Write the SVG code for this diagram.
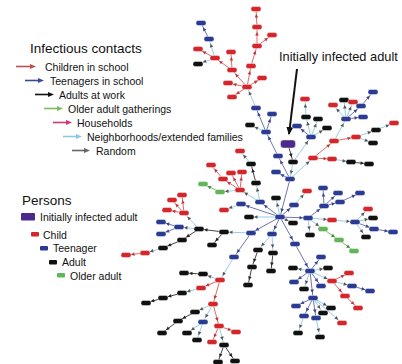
<svg xmlns="http://www.w3.org/2000/svg" width="402" height="364" viewBox="0 0 402 364">
<style>
text{font-family:"Liberation Sans",Arial,sans-serif;fill:#111}
.t{font-size:13.5px}
.s{font-size:10.5px}
.nR{fill:#d4262b}.nB{fill:#2b3b93}.nK{fill:#111}.nG{fill:#63b55a}
#nodes rect{stroke:#fff;stroke-width:0.4}
#edges line{stroke-width:1;fill:none}
.eR{stroke:#e0686a;marker-end:url(#aR)}
.eB{stroke:#6e76b6;marker-end:url(#aB)}
.eK{stroke:#444;marker-end:url(#aK)}
.eL{stroke:#93cfe6;marker-end:url(#aL)}
.eG{stroke:#72bf63;marker-end:url(#aG)}
.lg{stroke-width:1.6}
</style>
<defs>
<marker id="aR" markerUnits="userSpaceOnUse" viewBox="-10 -3 10 6" markerWidth="10" markerHeight="6" refX="0" refY="0" orient="auto"><path d="M-8.5,-1.8 L-5,0 L-8.5,1.8z" fill="#c0393d"/></marker>
<marker id="aB" markerUnits="userSpaceOnUse" viewBox="-10 -3 10 6" markerWidth="10" markerHeight="6" refX="0" refY="0" orient="auto"><path d="M-8.5,-1.8 L-5,0 L-8.5,1.8z" fill="#3a4490"/></marker>
<marker id="aK" markerUnits="userSpaceOnUse" viewBox="-10 -3 10 6" markerWidth="10" markerHeight="6" refX="0" refY="0" orient="auto"><path d="M-8.5,-1.8 L-5,0 L-8.5,1.8z" fill="#222"/></marker>
<marker id="aL" markerUnits="userSpaceOnUse" viewBox="-10 -3 10 6" markerWidth="10" markerHeight="6" refX="0" refY="0" orient="auto"><path d="M-8.5,-1.8 L-5,0 L-8.5,1.8z" fill="#555"/></marker>
<marker id="aG" markerUnits="userSpaceOnUse" viewBox="-10 -3 10 6" markerWidth="10" markerHeight="6" refX="0" refY="0" orient="auto"><path d="M-8.5,-1.8 L-5,0 L-8.5,1.8z" fill="#3d8a3a"/></marker>
<marker id="big" markerUnits="userSpaceOnUse" viewBox="0 0 8 8" markerWidth="8" markerHeight="8" refX="7" refY="4" orient="auto"><path d="M0,0.5 L8,4 L0,7.5z" fill="#111"/></marker>
</defs>
<rect width="402" height="364" fill="#fff"/>

<g id="legend-contacts">
<text class="t" x="30" y="53">Infectious contacts</text>
<line class="lg" x1="16" y1="66.5" x2="31" y2="66.5" stroke="#c0504d"/><polygon points="30,64 36,66.5 30,69" fill="#c0504d"/>
<text class="s" x="45" y="70.5">Children in school</text>
<line class="lg" x1="25" y1="80.5" x2="39" y2="80.5" stroke="#3a4a9a"/><polygon points="38,78 44,80.5 38,83" fill="#3a4a9a"/>
<text class="s" x="50" y="84.5">Teenagers in school</text>
<line class="lg" x1="35" y1="94.5" x2="49" y2="94.5" stroke="#111"/><polygon points="48,92 54,94.5 48,97" fill="#111"/>
<text class="s" x="59" y="98.5">Adults at work</text>
<line class="lg" x1="44" y1="108.5" x2="58" y2="108.5" stroke="#7cbc5c"/><polygon points="57,106 63,108.5 57,111" fill="#7cbc5c"/>
<text class="s" x="68" y="112.5">Older adult gatherings</text>
<line class="lg" x1="53" y1="122.5" x2="67" y2="122.5" stroke="#d0357a"/><polygon points="66,120 72,122.5 66,125" fill="#d0357a"/>
<text class="s" x="77" y="126.5">Households</text>
<line class="lg" x1="63" y1="136.5" x2="77" y2="136.5" stroke="#8cc8e0"/><polygon points="76,134 82,136.5 76,139" fill="#8cc8e0"/>
<text class="s" x="87" y="140.5">Neighborhoods/extended families</text>
<line class="lg" x1="72" y1="150.5" x2="85" y2="150.5" stroke="#666"/><polygon points="84,148 90,150.5 84,153" fill="#666"/>
<text class="s" x="96" y="154.5">Random</text>
</g>

<g id="legend-persons">
<text class="t" x="22" y="205">Persons</text>
<rect x="21" y="213" width="14" height="7.5" rx="1" fill="#4b2a8c"/>
<text class="s" x="40" y="221">Initially infected adult</text>
<rect x="31" y="232" width="8" height="4.5" rx="1" class="nR"/>
<text class="s" x="43" y="238.5">Child</text>
<rect x="40" y="246" width="8" height="4.5" rx="1" class="nB"/>
<text class="s" x="53" y="252">Teenager</text>
<rect x="49" y="260" width="8" height="4.5" rx="1" class="nK"/>
<text class="s" x="62" y="266">Adult</text>
<rect x="57" y="273" width="8" height="4.5" rx="1" class="nG"/>
<text class="s" x="70" y="280">Older adult</text>
</g>

<g id="label">
<text x="279" y="61" font-size="12.8">Initially infected adult</text>
<line x1="297" y1="69" x2="289" y2="134" stroke="#111" stroke-width="2" marker-end="url(#big)"/>
</g>

<g id="edges">
<line class="eR" x1="247" y1="87" x2="228" y2="83"/>
<line class="eR" x1="247" y1="87" x2="232" y2="97"/>
<line class="eR" x1="247" y1="87" x2="262" y2="78"/>
<line class="eR" x1="247" y1="87" x2="251" y2="66"/>
<line class="eR" x1="247" y1="87" x2="232" y2="70"/>
<line class="eR" x1="251" y1="66" x2="257" y2="46"/>
<line class="eR" x1="257" y1="46" x2="272" y2="35"/>
<line class="eR" x1="257" y1="46" x2="257" y2="27"/>
<line class="eR" x1="257" y1="27" x2="256" y2="9"/>
<line class="eR" x1="232" y1="70" x2="231" y2="52"/>
<line class="eR" x1="232" y1="70" x2="215" y2="58"/>
<line class="eR" x1="215" y1="58" x2="198" y2="49"/>
<line class="eL" x1="215" y1="58" x2="198" y2="64"/>
<line class="eL" x1="215" y1="58" x2="209" y2="39"/>
<line class="eB" x1="209" y1="39" x2="201" y2="23"/>
<line class="eL" x1="256" y1="108" x2="247" y2="87"/>
<line class="eB" x1="266" y1="132" x2="256" y2="108"/>
<line class="eB" x1="266" y1="132" x2="272" y2="114"/>
<line class="eL" x1="266" y1="132" x2="250" y2="125"/>
<line class="eB" x1="278" y1="156" x2="266" y2="132"/>
<line class="eB" x1="290" y1="179" x2="278" y2="156"/>
<line class="eK" x1="288" y1="144" x2="293" y2="162"/>
<line class="eL" x1="293" y1="162" x2="290" y2="179"/>
<line class="eL" x1="293" y1="162" x2="311" y2="137"/>
<line class="eB" x1="311" y1="137" x2="297" y2="126"/>
<line class="eL" x1="311" y1="137" x2="306" y2="117"/>
<line class="eL" x1="311" y1="137" x2="318" y2="119"/>
<line class="eL" x1="311" y1="137" x2="327" y2="128"/>
<line class="eL" x1="306" y1="117" x2="305" y2="99"/>
<line class="eL" x1="290" y1="179" x2="313" y2="158"/>
<line class="eR" x1="313" y1="158" x2="332" y2="159"/>
<line class="eL" x1="332" y1="159" x2="351" y2="162"/>
<line class="eK" x1="351" y1="162" x2="369" y2="164"/>
<line class="eR" x1="313" y1="158" x2="334" y2="141"/>
<line class="eL" x1="334" y1="141" x2="346" y2="119"/>
<line class="eR" x1="334" y1="141" x2="356" y2="137"/>
<line class="eL" x1="356" y1="137" x2="376" y2="130"/>
<line class="eL" x1="356" y1="137" x2="373" y2="143"/>
<line class="eL" x1="376" y1="130" x2="394" y2="123"/>
<line class="eL" x1="346" y1="119" x2="333" y2="105"/>
<line class="eL" x1="346" y1="119" x2="344" y2="100"/>
<line class="eL" x1="346" y1="119" x2="353" y2="102"/>
<line class="eB" x1="346" y1="119" x2="361" y2="106"/>
<line class="eB" x1="361" y1="106" x2="373" y2="92"/>
<line class="eB" x1="346" y1="119" x2="363" y2="117"/>
<line class="eB" x1="290" y1="179" x2="276" y2="172"/>
<line class="eB" x1="290" y1="179" x2="280" y2="217"/>
<line class="eB" x1="280" y1="217" x2="260" y2="202"/>
<line class="eL" x1="260" y1="202" x2="256" y2="183"/>
<line class="eK" x1="256" y1="183" x2="251" y2="164"/>
<line class="eL" x1="251" y1="164" x2="240" y2="151"/>
<line class="eL" x1="260" y1="202" x2="240" y2="190"/>
<line class="eR" x1="240" y1="190" x2="223" y2="179"/>
<line class="eR" x1="223" y1="179" x2="211" y2="165"/>
<line class="eR" x1="240" y1="190" x2="231" y2="173"/>
<line class="eR" x1="240" y1="190" x2="242" y2="172"/>
<line class="eL" x1="240" y1="190" x2="220" y2="192"/>
<line class="eG" x1="220" y1="192" x2="203" y2="184"/>
<line class="eB" x1="280" y1="217" x2="241" y2="204"/>
<line class="eL" x1="241" y1="204" x2="224" y2="210"/>
<line class="eL" x1="280" y1="217" x2="249" y2="217"/>
<line class="eL" x1="280" y1="217" x2="276" y2="198"/>
<line class="eB" x1="280" y1="217" x2="294" y2="205"/>
<line class="eL" x1="294" y1="205" x2="307" y2="191"/>
<line class="eL" x1="280" y1="217" x2="293" y2="223"/>
<line class="eB" x1="280" y1="217" x2="251" y2="233"/>
<line class="eL" x1="251" y1="233" x2="224" y2="232"/>
<line class="eK" x1="224" y1="232" x2="199" y2="229"/>
<line class="eL" x1="199" y1="229" x2="179" y2="227"/>
<line class="eB" x1="179" y1="227" x2="161" y2="222"/>
<line class="eB" x1="179" y1="227" x2="161" y2="234"/>
<line class="eL" x1="199" y1="229" x2="184" y2="213"/>
<line class="eR" x1="184" y1="213" x2="182" y2="195"/>
<line class="eR" x1="184" y1="213" x2="172" y2="200"/>
<line class="eR" x1="184" y1="213" x2="167" y2="210"/>
<line class="eK" x1="199" y1="229" x2="182" y2="240"/>
<line class="eK" x1="182" y1="240" x2="163" y2="248"/>
<line class="eL" x1="163" y1="248" x2="145" y2="253"/>
<line class="eR" x1="145" y1="253" x2="126" y2="255"/>
<line class="eK" x1="224" y1="232" x2="212" y2="245"/>
<line class="eB" x1="251" y1="233" x2="234" y2="257"/>
<line class="eL" x1="234" y1="257" x2="220" y2="280"/>
<line class="eL" x1="220" y1="280" x2="203" y2="274"/>
<line class="eK" x1="203" y1="274" x2="184" y2="273"/>
<line class="eR" x1="220" y1="280" x2="201" y2="288"/>
<line class="eL" x1="201" y1="288" x2="182" y2="293"/>
<line class="eK" x1="182" y1="293" x2="163" y2="298"/>
<line class="eK" x1="163" y1="298" x2="146" y2="303"/>
<line class="eR" x1="220" y1="280" x2="213" y2="304"/>
<line class="eL" x1="213" y1="304" x2="195" y2="312"/>
<line class="eK" x1="195" y1="312" x2="178" y2="321"/>
<line class="eK" x1="178" y1="321" x2="162" y2="333"/>
<line class="eL" x1="213" y1="304" x2="203" y2="322"/>
<line class="eL" x1="203" y1="322" x2="187" y2="333"/>
<line class="eL" x1="203" y1="322" x2="197" y2="340"/>
<line class="eR" x1="213" y1="304" x2="219" y2="326"/>
<line class="eR" x1="219" y1="326" x2="236" y2="332"/>
<line class="eR" x1="219" y1="326" x2="212" y2="342"/>
<line class="eL" x1="219" y1="326" x2="224" y2="345"/>
<line class="eK" x1="224" y1="345" x2="218" y2="362"/>
<line class="eK" x1="224" y1="345" x2="235" y2="361"/>
<line class="eB" x1="280" y1="217" x2="272" y2="234"/>
<line class="eL" x1="272" y1="234" x2="258" y2="250"/>
<line class="eL" x1="272" y1="234" x2="273" y2="253"/>
<line class="eK" x1="258" y1="250" x2="252" y2="267"/>
<line class="eK" x1="252" y1="267" x2="248" y2="285"/>
<line class="eK" x1="273" y1="253" x2="271" y2="271"/>
<line class="eB" x1="280" y1="217" x2="295" y2="244"/>
<line class="eB" x1="295" y1="244" x2="310" y2="271"/>
<line class="eB" x1="310" y1="271" x2="321" y2="257"/>
<line class="eL" x1="310" y1="271" x2="293" y2="268"/>
<line class="eL" x1="310" y1="271" x2="328" y2="268"/>
<line class="eB" x1="310" y1="271" x2="294" y2="282"/>
<line class="eL" x1="310" y1="271" x2="304" y2="289"/>
<line class="eB" x1="310" y1="271" x2="321" y2="286"/>
<line class="eL" x1="310" y1="271" x2="332" y2="281"/>
<line class="eR" x1="332" y1="281" x2="349" y2="273"/>
<line class="eL" x1="332" y1="281" x2="352" y2="286"/>
<line class="eB" x1="352" y1="286" x2="370" y2="291"/>
<line class="eR" x1="332" y1="281" x2="345" y2="296"/>
<line class="eR" x1="345" y1="296" x2="358" y2="308"/>
<line class="eB" x1="310" y1="271" x2="313" y2="298"/>
<line class="eB" x1="313" y1="298" x2="296" y2="306"/>
<line class="eB" x1="313" y1="298" x2="304" y2="316"/>
<line class="eB" x1="313" y1="298" x2="316" y2="318"/>
<line class="eL" x1="313" y1="298" x2="323" y2="313"/>
<line class="eL" x1="313" y1="298" x2="331" y2="308"/>
<line class="eL" x1="313" y1="298" x2="342" y2="323"/>
<line class="eL" x1="304" y1="316" x2="298" y2="333"/>
<line class="eL" x1="316" y1="318" x2="320" y2="337"/>
<line class="eB" x1="280" y1="217" x2="308" y2="218"/>
<line class="eB" x1="308" y1="218" x2="324" y2="206"/>
<line class="eB" x1="324" y1="206" x2="323" y2="188"/>
<line class="eB" x1="324" y1="206" x2="338" y2="193"/>
<line class="eB" x1="324" y1="206" x2="340" y2="202"/>
<line class="eB" x1="340" y1="202" x2="360" y2="193"/>
<line class="eL" x1="308" y1="218" x2="332" y2="220"/>
<line class="eL" x1="332" y1="220" x2="355" y2="222"/>
<line class="eL" x1="355" y1="222" x2="368" y2="209"/>
<line class="eL" x1="355" y1="222" x2="373" y2="218"/>
<line class="eB" x1="355" y1="222" x2="374" y2="229"/>
<line class="eB" x1="374" y1="229" x2="393" y2="232"/>
<line class="eL" x1="355" y1="222" x2="366" y2="237"/>
<line class="eL" x1="308" y1="218" x2="310" y2="235"/>
<line class="eL" x1="308" y1="218" x2="323" y2="229"/>
<line class="eG" x1="323" y1="229" x2="339" y2="240"/>
<line class="eG" x1="339" y1="240" x2="354" y2="251"/>
</g>

<g id="nodes">
<g id="t1"><rect class="nR" x="251" y="6.5" width="10" height="5" rx="2"/></g>
<g id="t2"><rect class="nR" x="252" y="24.5" width="10" height="5" rx="2"/></g>
<g id="t3"><rect class="nR" x="267" y="32.5" width="10" height="5" rx="2"/></g>
<g id="t4"><rect class="nR" x="252" y="43.5" width="10" height="5" rx="2"/></g>
<g id="t5"><rect class="nR" x="246" y="63.5" width="10" height="5" rx="2"/></g>
<g id="t6"><rect class="nR" x="257" y="75.5" width="10" height="5" rx="2"/></g>
<g id="t7"><rect class="nR" x="242" y="84.5" width="10" height="5" rx="2"/></g>
<g id="t8"><rect class="nR" x="223" y="80.5" width="10" height="5" rx="2"/></g>
<g id="t9"><rect class="nR" x="227" y="94.5" width="10" height="5" rx="2"/></g>
<g id="t10"><rect class="nR" x="227" y="67.5" width="10" height="5" rx="2"/></g>
<g id="t11"><rect class="nR" x="226" y="49.5" width="10" height="5" rx="2"/></g>
<g id="t12"><rect class="nR" x="210" y="55.5" width="10" height="5" rx="2"/></g>
<g id="t13"><rect class="nR" x="193" y="46.5" width="10" height="5" rx="2"/></g>
<g id="t14"><rect class="nK" x="193" y="61.5" width="10" height="5" rx="2"/></g>
<g id="t15"><rect class="nB" x="204" y="36.5" width="10" height="5" rx="2"/></g>
<g id="t16"><rect class="nB" x="196" y="20.5" width="10" height="5" rx="2"/></g>
<g id="k1"><rect class="nB" x="251" y="105.5" width="10" height="5" rx="2"/></g>
<g id="k2"><rect class="nB" x="267" y="111.5" width="10" height="5" rx="2"/></g>
<g id="k3"><rect class="nK" x="245" y="122.5" width="10" height="5" rx="2"/></g>
<g id="k4"><rect class="nB" x="261" y="129.5" width="10" height="5" rx="2"/></g>
<g id="k5"><rect class="nB" x="273" y="153.5" width="10" height="5" rx="2"/></g>
<g id="k6"><rect class="nK" x="288" y="159.5" width="10" height="5" rx="2"/></g>
<g id="k7"><rect class="nB" x="285" y="176.5" width="10" height="5" rx="2"/></g>
<g id="k8"><rect class="nB" x="271" y="169.5" width="10" height="5" rx="2"/></g>
<g id="initial"><rect x="280.5" y="140" width="15" height="8" rx="3" fill="#4b2a8c" stroke="#fff" stroke-width="0.4"/></g>
<g id="r1"><rect class="nB" x="306" y="134.5" width="10" height="5" rx="2"/></g>
<g id="r2"><rect class="nB" x="292" y="123.5" width="10" height="5" rx="2"/></g>
<g id="r3"><rect class="nK" x="301" y="114.5" width="10" height="5" rx="2"/></g>
<g id="r4"><rect class="nK" x="313" y="116.5" width="10" height="5" rx="2"/></g>
<g id="r5"><rect class="nK" x="322" y="125.5" width="10" height="5" rx="2"/></g>
<g id="r6"><rect class="nR" x="300" y="96.5" width="10" height="5" rx="2"/></g>
<g id="r7"><rect class="nR" x="308" y="155.5" width="10" height="5" rx="2"/></g>
<g id="r8"><rect class="nR" x="327" y="156.5" width="10" height="5" rx="2"/></g>
<g id="r9"><rect class="nK" x="346" y="159.5" width="10" height="5" rx="2"/></g>
<g id="r10"><rect class="nK" x="364" y="161.5" width="10" height="5" rx="2"/></g>
<g id="r11"><rect class="nR" x="329" y="138.5" width="10" height="5" rx="2"/></g>
<g id="r12"><rect class="nR" x="351" y="134.5" width="10" height="5" rx="2"/></g>
<g id="r13"><rect class="nK" x="371" y="127.5" width="10" height="5" rx="2"/></g>
<g id="r14"><rect class="nK" x="368" y="140.5" width="10" height="5" rx="2"/></g>
<g id="r15"><rect class="nR" x="389" y="120.5" width="10" height="5" rx="2"/></g>
<g id="r16"><rect class="nB" x="341" y="116.5" width="10" height="5" rx="2"/></g>
<g id="r17"><rect class="nR" x="328" y="102.5" width="10" height="5" rx="2"/></g>
<g id="r18"><rect class="nK" x="339" y="97.5" width="10" height="5" rx="2"/></g>
<g id="r19"><rect class="nR" x="348" y="99.5" width="10" height="5" rx="2"/></g>
<g id="r20"><rect class="nB" x="356" y="103.5" width="10" height="5" rx="2"/></g>
<g id="r21"><rect class="nB" x="368" y="89.5" width="10" height="5" rx="2"/></g>
<g id="r22"><rect class="nB" x="358" y="114.5" width="10" height="5" rx="2"/></g>
<g id="m1"><rect class="nR" x="235" y="148.5" width="10" height="5" rx="2"/></g>
<g id="m2"><rect class="nK" x="246" y="161.5" width="10" height="5" rx="2"/></g>
<g id="m3"><rect class="nK" x="251" y="180.5" width="10" height="5" rx="2"/></g>
<g id="m4"><rect class="nB" x="255" y="199.5" width="10" height="5" rx="2"/></g>
<g id="hub"><rect class="nB" x="275" y="214.5" width="10" height="5" rx="2"/></g>
<g id="g1"><rect class="nR" x="235" y="187.5" width="10" height="5" rx="2"/></g>
<g id="g2"><rect class="nR" x="218" y="176.5" width="10" height="5" rx="2"/></g>
<g id="g3"><rect class="nR" x="206" y="162.5" width="10" height="5" rx="2"/></g>
<g id="g4"><rect class="nR" x="226" y="170.5" width="10" height="5" rx="2"/></g>
<g id="g5"><rect class="nR" x="237" y="169.5" width="10" height="5" rx="2"/></g>
<g id="g6"><rect class="nG" x="215" y="189.5" width="10" height="5" rx="2"/></g>
<g id="g7"><rect class="nG" x="198" y="181.5" width="10" height="5" rx="2"/></g>
<g id="g8"><rect class="nB" x="236" y="201.5" width="10" height="5" rx="2"/></g>
<g id="g9"><rect class="nR" x="219" y="207.5" width="10" height="5" rx="2"/></g>
<g id="g10"><rect class="nK" x="244" y="214.5" width="10" height="5" rx="2"/></g>
<g id="g11"><rect class="nK" x="271" y="195.5" width="10" height="5" rx="2"/></g>
<g id="g12"><rect class="nB" x="289" y="202.5" width="10" height="5" rx="2"/></g>
<g id="g13"><rect class="nR" x="302" y="188.5" width="10" height="5" rx="2"/></g>
<g id="g14"><rect class="nK" x="288" y="220.5" width="10" height="5" rx="2"/></g>
<g id="l1"><rect class="nB" x="246" y="230.5" width="10" height="5" rx="2"/></g>
<g id="l2"><rect class="nK" x="219" y="229.5" width="10" height="5" rx="2"/></g>
<g id="l3"><rect class="nK" x="194" y="226.5" width="10" height="5" rx="2"/></g>
<g id="l4"><rect class="nB" x="174" y="224.5" width="10" height="5" rx="2"/></g>
<g id="l5"><rect class="nB" x="156" y="219.5" width="10" height="5" rx="2"/></g>
<g id="l6"><rect class="nB" x="156" y="231.5" width="10" height="5" rx="2"/></g>
<g id="l7"><rect class="nR" x="179" y="210.5" width="10" height="5" rx="2"/></g>
<g id="l8"><rect class="nR" x="177" y="192.5" width="10" height="5" rx="2"/></g>
<g id="l9"><rect class="nR" x="167" y="197.5" width="10" height="5" rx="2"/></g>
<g id="l10"><rect class="nR" x="162" y="207.5" width="10" height="5" rx="2"/></g>
<g id="l11"><rect class="nK" x="177" y="237.5" width="10" height="5" rx="2"/></g>
<g id="l12"><rect class="nK" x="158" y="245.5" width="10" height="5" rx="2"/></g>
<g id="l13"><rect class="nR" x="140" y="250.5" width="10" height="5" rx="2"/></g>
<g id="l14"><rect class="nR" x="121" y="252.5" width="10" height="5" rx="2"/></g>
<g id="l15"><rect class="nK" x="207" y="242.5" width="10" height="5" rx="2"/></g>
<g id="d1"><rect class="nB" x="229" y="254.5" width="10" height="5" rx="2"/></g>
<g id="d2"><rect class="nR" x="215" y="277.5" width="10" height="5" rx="2"/></g>
<g id="d3"><rect class="nK" x="198" y="271.5" width="10" height="5" rx="2"/></g>
<g id="d4"><rect class="nK" x="179" y="270.5" width="10" height="5" rx="2"/></g>
<g id="d5"><rect class="nR" x="196" y="285.5" width="10" height="5" rx="2"/></g>
<g id="d6"><rect class="nK" x="177" y="290.5" width="10" height="5" rx="2"/></g>
<g id="d7"><rect class="nK" x="158" y="295.5" width="10" height="5" rx="2"/></g>
<g id="d8"><rect class="nK" x="141" y="300.5" width="10" height="5" rx="2"/></g>
<g id="d9"><rect class="nR" x="208" y="301.5" width="10" height="5" rx="2"/></g>
<g id="d10"><rect class="nK" x="190" y="309.5" width="10" height="5" rx="2"/></g>
<g id="d11"><rect class="nK" x="173" y="318.5" width="10" height="5" rx="2"/></g>
<g id="d12"><rect class="nK" x="157" y="330.5" width="10" height="5" rx="2"/></g>
<g id="d13"><rect class="nB" x="198" y="319.5" width="10" height="5" rx="2"/></g>
<g id="d14"><rect class="nK" x="182" y="330.5" width="10" height="5" rx="2"/></g>
<g id="d15"><rect class="nK" x="192" y="337.5" width="10" height="5" rx="2"/></g>
<g id="d16"><rect class="nR" x="214" y="323.5" width="10" height="5" rx="2"/></g>
<g id="d17"><rect class="nR" x="231" y="329.5" width="10" height="5" rx="2"/></g>
<g id="d18"><rect class="nR" x="207" y="339.5" width="10" height="5" rx="2"/></g>
<g id="d19"><rect class="nK" x="219" y="342.5" width="10" height="5" rx="2"/></g>
<g id="d20"><rect class="nK" x="213" y="359.5" width="10" height="5" rx="2"/></g>
<g id="d21"><rect class="nK" x="230" y="358.5" width="10" height="5" rx="2"/></g>
<g id="c1"><rect class="nB" x="267" y="231.5" width="10" height="5" rx="2"/></g>
<g id="c2"><rect class="nK" x="253" y="247.5" width="10" height="5" rx="2"/></g>
<g id="c3"><rect class="nK" x="268" y="250.5" width="10" height="5" rx="2"/></g>
<g id="c4"><rect class="nK" x="247" y="264.5" width="10" height="5" rx="2"/></g>
<g id="c5"><rect class="nK" x="266" y="268.5" width="10" height="5" rx="2"/></g>
<g id="c6"><rect class="nK" x="243" y="282.5" width="10" height="5" rx="2"/></g>
<g id="c7"><rect class="nB" x="290" y="241.5" width="10" height="5" rx="2"/></g>
<g id="hub2"><rect class="nB" x="305" y="268.5" width="10" height="5" rx="2"/></g>
<g id="c8"><rect class="nB" x="316" y="254.5" width="10" height="5" rx="2"/></g>
<g id="c9"><rect class="nK" x="288" y="265.5" width="10" height="5" rx="2"/></g>
<g id="c10"><rect class="nK" x="323" y="265.5" width="10" height="5" rx="2"/></g>
<g id="c11"><rect class="nB" x="289" y="279.5" width="10" height="5" rx="2"/></g>
<g id="c12"><rect class="nK" x="299" y="286.5" width="10" height="5" rx="2"/></g>
<g id="c13"><rect class="nB" x="316" y="283.5" width="10" height="5" rx="2"/></g>
<g id="c14"><rect class="nR" x="327" y="278.5" width="10" height="5" rx="2"/></g>
<g id="c15"><rect class="nR" x="344" y="270.5" width="10" height="5" rx="2"/></g>
<g id="c16"><rect class="nB" x="347" y="283.5" width="10" height="5" rx="2"/></g>
<g id="c17"><rect class="nB" x="365" y="288.5" width="10" height="5" rx="2"/></g>
<g id="c18"><rect class="nR" x="340" y="293.5" width="10" height="5" rx="2"/></g>
<g id="c19"><rect class="nR" x="353" y="305.5" width="10" height="5" rx="2"/></g>
<g id="hub3"><rect class="nB" x="308" y="295.5" width="10" height="5" rx="2"/></g>
<g id="c20"><rect class="nB" x="291" y="303.5" width="10" height="5" rx="2"/></g>
<g id="c21"><rect class="nB" x="299" y="313.5" width="10" height="5" rx="2"/></g>
<g id="c22"><rect class="nB" x="311" y="315.5" width="10" height="5" rx="2"/></g>
<g id="c23"><rect class="nK" x="318" y="310.5" width="10" height="5" rx="2"/></g>
<g id="c24"><rect class="nK" x="326" y="305.5" width="10" height="5" rx="2"/></g>
<g id="c25"><rect class="nR" x="337" y="320.5" width="10" height="5" rx="2"/></g>
<g id="c26"><rect class="nK" x="293" y="330.5" width="10" height="5" rx="2"/></g>
<g id="c27"><rect class="nK" x="315" y="334.5" width="10" height="5" rx="2"/></g>
<g id="e1"><rect class="nB" x="303" y="215.5" width="10" height="5" rx="2"/></g>
<g id="e2"><rect class="nB" x="319" y="203.5" width="10" height="5" rx="2"/></g>
<g id="e3"><rect class="nB" x="318" y="185.5" width="10" height="5" rx="2"/></g>
<g id="e4"><rect class="nB" x="333" y="190.5" width="10" height="5" rx="2"/></g>
<g id="e5"><rect class="nB" x="335" y="199.5" width="10" height="5" rx="2"/></g>
<g id="e6"><rect class="nB" x="355" y="190.5" width="10" height="5" rx="2"/></g>
<g id="e7"><rect class="nR" x="327" y="217.5" width="10" height="5" rx="2"/></g>
<g id="e8"><rect class="nB" x="350" y="219.5" width="10" height="5" rx="2"/></g>
<g id="e9"><rect class="nR" x="363" y="206.5" width="10" height="5" rx="2"/></g>
<g id="e10"><rect class="nK" x="368" y="215.5" width="10" height="5" rx="2"/></g>
<g id="e11"><rect class="nB" x="369" y="226.5" width="10" height="5" rx="2"/></g>
<g id="e12"><rect class="nB" x="388" y="229.5" width="10" height="5" rx="2"/></g>
<g id="e13"><rect class="nK" x="361" y="234.5" width="10" height="5" rx="2"/></g>
<g id="e14"><rect class="nK" x="305" y="232.5" width="10" height="5" rx="2"/></g>
<g id="e15"><rect class="nG" x="318" y="226.5" width="10" height="5" rx="2"/></g>
<g id="e16"><rect class="nG" x="334" y="237.5" width="10" height="5" rx="2"/></g>
<g id="e17"><rect class="nG" x="349" y="248.5" width="10" height="5" rx="2"/></g>
</g>
</svg>
